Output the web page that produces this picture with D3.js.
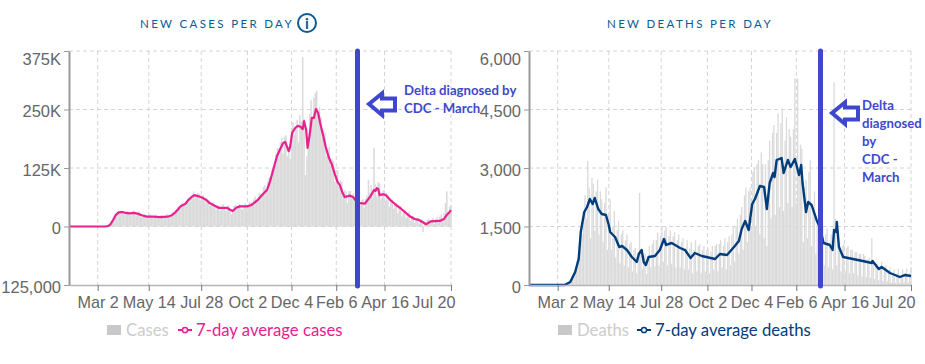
<!DOCTYPE html>
<html>
<head>
<meta charset="utf-8">
<script src="https://cdn.jsdelivr.net/npm/d3@7"></script>
<style>
    body { margin: 0; background: #fff; }
    svg { display: block; font-family: Lato, sans-serif; }
</style>
</head>
<body>
<div id="chart-area"></div>
<script>
// Days are counted from the first day on the axis
var startDate = new Date(2020, 0, 21);
var lastDay = 546;

var tickDates = [new Date(2020, 2, 2), new Date(2020, 4, 14), new Date(2020, 6, 28), new Date(2020, 9, 2),
    new Date(2020, 11, 4), new Date(2021, 1, 6), new Date(2021, 3, 16), new Date(2021, 6, 20)];
var tickLabels = ["Mar 2", "May 14", "Jul 28", "Oct 2", "Dec 4", "Feb 6", "Apr 16", "Jul 20"];

var caseTicks = [-125, 0, 125, 250, 375];
var caseTickLabels = ["125,000", "0", "125K", "250K", "375K"];
var deathTicks = [0, 1500, 3000, 4500, 6000];
var deathTickLabels = ["0", "1,500", "3,000", "4,500", "6,000"];

// Daily cases in thousands, read every second day from day 56
var caseBarStart = 56;
var caseBars = [
    1, 3, 6, 11, 16, 21, 26, 31, 32, 34,
    30, 27, 26, 32, 34, 28, 24, 30, 34, 30,
    22, 27, 32, 26, 20, 23, 26, 22, 18, 22,
    26, 20, 18, 22, 25, 19, 17, 21, 25, 20,
    18, 22, 27, 20, 19, 25, 30, 26, 30, 37,
    42, 38, 44, 50, 46, 44, 54, 60, 52, 58,
    68, 75, 66, 62, 72, 70, 56, 60, 68, 58,
    50, 58, 56, 44, 46, 52, 46, 36, 42, 44,
    34, 40, 48, 42, 32, 40, 46, 36, 26, 30,
    44, 46, 36, 40, 48, 38, 36, 46, 50, 40,
    44, 52, 52, 46, 58, 64, 56, 60, 72, 70,
    68, 84, 88, 80, 96, 104, 100, 122, 126, 130,
    156, 168, 150, 180, 190, 155, 192, 195, 150, 160,
    145, 205, 222, 195, 215, 228, 180, 238, 225, 362,
    230, 110, 150, 190, 240, 270, 235, 275, 285, 290,
    240, 255, 235, 190, 205, 200, 150, 165, 170, 130,
    145, 140, 95, 110, 120, 85, 100, 95, 65, 78,
    75, 50, 75, 76, 60, 70, 62, 46, 58, 60,
    44, 56, 58, 40, 60, 66, 100, 72, 88, 62,
    168, 90, 64, 95, 92, 60, 75, 78, 55, 72,
    66, 42, 56, 58, 38, 50, 50, 28, 42, 44,
    22, 36, 36, 18, 26, 32, 12, 22, 22, 8,
    18, 18, 6, 14, 16, -12, 10, 8, 14, 16,
    6, 14, 18, 6, 16, 20, 8, 20, 26, 10,
    28, 50, 75, 30, 42, 45
];

// 7-day average cases in thousands
var caseAvgDays = [0, 51, 56, 59, 63, 67, 71, 76, 81, 87, 93, 99, 104, 111, 120, 130, 141, 147, 151, 156,
    160, 166, 171, 176, 179, 184, 190, 196, 201, 209, 214, 226, 231, 234, 239, 244, 254, 261, 270, 279,
    283, 287, 291, 297, 301, 306, 309, 311, 314, 316, 319, 323, 327, 331, 334, 336, 339, 341, 344, 347,
    350, 353, 356, 359, 363, 367, 371, 376, 380, 384, 387, 391, 394, 399, 401, 406, 409, 416, 423, 427,
    431, 436, 438, 440, 442, 444, 449, 453, 459, 466, 473, 480, 487, 494, 500, 506, 510, 513, 517, 530,
    536, 540, 543, 546];
var caseAvg = [0, 0, 1, 4, 14, 25, 30, 31, 29, 28, 29, 27, 24, 21, 21, 20, 21, 24, 29, 37,
    44, 48, 57, 64, 67, 65, 62, 57, 50, 44, 40, 40, 35, 33, 40, 43, 43, 46, 57, 72,
    78, 95, 116, 149, 163, 178, 181, 173, 161, 170, 200, 210, 215, 213, 208, 225, 206, 168, 196, 232,
    232, 251, 243, 221, 196, 170, 149, 131, 112, 95, 89, 72, 63, 65, 66, 63, 57, 50, 49, 57,
    65, 78, 76, 82, 80, 67, 69, 67, 57, 48, 40, 31, 22, 16, 14, 9, 5, 7, 11, 12,
    16, 25, 29, 35];

// Daily deaths, read every second day from day 52
var deathBarStart = 52;
var deathBars = [
    10, 20, 40, 60, 120, 200, 300, 350, 600, 700,
    1000, 1500, 1300, 1900, 2300, 1700, 3180, 2500, 1200, 2750,
    2600, 1400, 2400, 2700, 1300, 2400, 2200, 1100, 2100, 2500,
    900, 1800, 2200, 900, 1500, 1900, 700, 1400, 1650, 560,
    1300, 1400, 500, 1150, 1300, 450, 1050, 1100, 350, 900,
    950, 300, 850, 2360, 900, 400, 750, 800, 280, 750,
    1000, 450, 1050, 1150, 480, 1150, 1350, 500, 1250, 1500,
    600, 1400, 1500, 500, 1250, 1400, 550, 1250, 1350, 450,
    1150, 1300, 450, 1100, 1200, 400, 950, 1150, 400, 950,
    1100, 300, 900, 1150, 350, 1000, 1050, 300, 900, 1000,
    350, 900, 950, 300, 850, 1000, 400, 1000, 1050, 350,
    1050, 1150, 450, 1000, 1200, 400, 1100, 1250, 500, 1300,
    1500, 600, 1500, 1700, 800, 1800, 2000, 900, 2300, 2500,
    1100, 2400, 2500, 1400, 2900, 3000, 1500, 3100, 3200, 1300,
    3400, 3100, 1200, 3100, 1000, 3200, 3700, 1700, 3900, 4100,
    1800, 3900, 4400, 2000, 4150, 4500, 1900, 3700, 4300, 2100,
    4000, 3800, 2000, 4000, 5300, 2100, 5300, 2800, 3600, 3500,
    1100, 2500, 2700, 1200, 2900, 3200, 1000, 2000, 2400, 800,
    1500, 1900, 600, 1200, 1500, 500, 1300, 1450, 450, 1100,
    1300, 400, 5200, 1700, 500, 1400, 1100, 350, 1000, 1050,
    350, 950, 1000, 300, 900, 900, 300, 850, 850, 250,
    800, 800, 220, 800, 750, 200, 650, 700, 180, 1200,
    650, 150, 500, 550, 120, 450, 600, 100, 400, 500,
    100, 350, 450, 60, 300, 400, 60, 300, 420, 60,
    230, 400, 70, 300, 420, 60, 300, 470
];

// 7-day average deaths
var deathAvgDays = [0, 51, 59, 66, 71, 74, 79, 83, 87, 91, 94, 99, 104, 110, 114, 116, 123, 129, 133, 140,
    147, 154, 157, 161, 164, 167, 171, 180, 187, 193, 196, 204, 216, 223, 231, 237, 247, 266, 273, 283,
    293, 300, 304, 309, 314, 319, 323, 330, 336, 340, 344, 349, 351, 354, 361, 364, 370, 374, 380, 386,
    389, 391, 396, 399, 404, 411, 416, 421, 430, 434, 436, 439, 440, 443, 449, 463, 477, 490, 491, 500,
    504, 516, 530, 537, 546];
var deathAvg = [0, 0, 77, 333, 667, 1359, 1872, 2000, 2205, 2077, 2231, 1949, 1820, 1795, 1538, 1359, 1231, 974, 1000, 897,
    718, 590, 795, 897, 590, 513, 718, 744, 897, 1179, 1026, 1077, 949, 897, 692, 820, 744, 667, 795, 769,
    974, 1128, 1436, 1641, 1410, 2077, 2205, 2538, 2513, 1949, 2615, 2872, 2769, 3205, 3256, 2872, 3205, 3026, 3231, 2820,
    3077, 2615, 1872, 2128, 2051, 1667, 1462, 1077, 1026, 897, 1410, 1359, 1615, 974, 718, 667, 615, 564, 615, 410,
    462, 308, 205, 256, 231];

var annotationColor = "#3f48cc";
var titleColor = "#0b5a95";
var axisText = "#666";

var svg = d3.select("#chart-area").append("svg")
    .attr("width", 925)
    .attr("height", 364);

function dayToDate(d) {
    return d3.timeDay.offset(startDate, d);
}

// One panel: grid, bars, average line, axes and legend
function drawPanel(p) {
    var x = d3.scaleTime()
        .domain([startDate, dayToDate(lastDay)])
        .range([p.left, p.left + 382]);
    var y = d3.scaleLinear()
        .domain(p.domain)
        .range([285, 51]);

    var g = svg.append("g");

    // Grid
    g.selectAll(".grid-h")
        .data(p.ticks.filter(d => d != p.domain[0]))
        .enter()
        .append("line")
        .attr("x1", p.left)
        .attr("x2", p.left + 382)
        .attr("y1", d => y(d))
        .attr("y2", d => y(d))
        .attr("stroke", "#d4d4d4")
        .attr("stroke-dasharray", "4,3");

    g.selectAll(".grid-v")
        .data(tickDates)
        .enter()
        .append("line")
        .attr("x1", d => x(d))
        .attr("x2", d => x(d))
        .attr("y1", 51)
        .attr("y2", 285)
        .attr("stroke", "#d4d4d4")
        .attr("stroke-dasharray", "4,3");

    // Daily bars
    g.selectAll(".bar")
        .data(p.bars)
        .enter()
        .append("rect")
        .attr("x", (d, i) => x(dayToDate(p.barStart + i * 2)) - p.barWidth / 2)
        .attr("y", d => Math.min(y(d), y(0)))
        .attr("width", p.barWidth)
        .attr("height", d => Math.abs(y(d) - y(0)))
        .attr("fill", "#dadada");

    // 7-day average
    var line = d3.line()
        .x((d, i) => x(dayToDate(p.avgDays[i])))
        .y(d => y(d));

    g.append("path")
        .datum(p.avg)
        .attr("d", line)
        .attr("fill", "none")
        .attr("stroke", p.color)
        .attr("stroke-width", p.lineWidth)
        .attr("stroke-linejoin", "round");

    // X axis
    var xAxis = g.append("g")
        .attr("transform", "translate(0,285)")
        .call(d3.axisBottom(x)
            .tickValues(tickDates)
            .tickFormat((d, i) => tickLabels[i])
            .tickSize(6)
            .tickSizeOuter(0));
    xAxis.select(".domain").attr("stroke", "#b5b5b5").attr("stroke-width", 1.5);
    xAxis.selectAll(".tick line").attr("stroke", "#777");
    xAxis.selectAll("text")
        .attr("y", 11)
        .attr("dy", "0.71em")
        .attr("fill", axisText)
        .style("font-size", "16.2px");
    // Last label stops at the plot edge
    xAxis.selectAll(".tick:last-of-type text")
        .attr("text-anchor", "end")
        .attr("dx", 4);

    // Y axis
    var yAxis = g.append("g")
        .attr("transform", "translate(" + p.left + ",0)")
        .call(d3.axisLeft(y)
            .tickValues(p.ticks)
            .tickFormat((d, i) => p.tickLabels[i])
            .tickSize(5)
            .tickSizeOuter(0));
    yAxis.select(".domain").attr("stroke", "#999").attr("stroke-width", 2);
    yAxis.selectAll(".tick line").attr("stroke", "#999");
    yAxis.selectAll("text")
        .attr("x", -8)
        .attr("dy", d => d == p.domain[1] ? 13.5 : 7)
        .attr("fill", axisText)
        .style("font-size", "16.5px");

    // Title
    svg.append("text")
        .attr("x", p.titleX)
        .attr("y", 27.5)
        .attr("fill", titleColor)
        .style("font-size", "11.5px")
        .style("letter-spacing", p.titleSpacing)
        .text(p.title);

    // Legend
    var legend = svg.append("g").attr("transform", "translate(" + p.legendX + ",0)");
    legend.append("rect")
        .attr("x", 0)
        .attr("y", 325)
        .attr("width", 14)
        .attr("height", 10)
        .attr("fill", "#c8c8c8");
    legend.append("text")
        .attr("x", 19)
        .attr("y", 336)
        .attr("fill", "#ccc")
        .style("font-size", "16.7px")
        .text(p.barName);
    legend.append("line")
        .attr("x1", p.markerX)
        .attr("x2", p.markerX + 14)
        .attr("y1", 330)
        .attr("y2", 330)
        .attr("stroke", p.color)
        .attr("stroke-width", 2);
    legend.append("circle")
        .attr("cx", p.markerX + 7)
        .attr("cy", 330)
        .attr("r", 2.6)
        .attr("fill", "#fff")
        .attr("stroke", p.color)
        .attr("stroke-width", 1.5);
    legend.append("text")
        .attr("x", p.markerX + 18)
        .attr("y", 336)
        .attr("fill", p.color)
        .style("font-size", "16.7px")
        .text(p.avgName);
}

drawPanel({
    left: 69, domain: [-125, 375], ticks: caseTicks, tickLabels: caseTickLabels,
    bars: caseBars, barStart: caseBarStart, barWidth: 1.5, avg: caseAvg, avgDays: caseAvgDays,
    color: "#e9208f", lineWidth: 2.2, title: "NEW CASES PER DAY", titleX: 140, titleSpacing: "2.35px",
    legendX: 107, markerX: 71, barName: "Cases", avgName: "7-day average cases"
});

drawPanel({
    left: 529, domain: [0, 6000], ticks: deathTicks, tickLabels: deathTickLabels,
    bars: deathBars, barStart: deathBarStart, barWidth: 1.3, avg: deathAvg, avgDays: deathAvgDays,
    color: "#003d7c", lineWidth: 2.4, title: "NEW DEATHS PER DAY", titleX: 607, titleSpacing: "2.35px",
    legendX: 558, markerX: 79, barName: "Deaths", avgName: "7-day average deaths"
});

// Info icon next to the first title
svg.append("circle")
    .attr("cx", 307)
    .attr("cy", 23)
    .attr("r", 9)
    .attr("fill", "none")
    .attr("stroke", titleColor)
    .attr("stroke-width", 2);
svg.append("text")
    .attr("x", 307)
    .attr("y", 29)
    .attr("text-anchor", "middle")
    .attr("fill", titleColor)
    .style("font-size", "15px")
    .style("font-weight", "bold")
    .text("i");

// Hand-drawn style annotations on top of each panel
function drawAnnotation(lineX, arrowDx, arrowDy, textX, lines, firstY) {
    svg.append("line")
        .attr("x1", lineX)
        .attr("x2", lineX)
        .attr("y1", 51)
        .attr("y2", 286)
        .attr("stroke", annotationColor)
        .attr("stroke-width", 5)
        .attr("stroke-linecap", "round");

    svg.append("path")
        .attr("d", "M369,104 L382,93.5 L382,98.5 L395,98.5 L395,110.5 L382,110.5 L382,115 Z")
        .attr("transform", "translate(" + arrowDx + "," + arrowDy + ")")
        .attr("fill", "#fff")
        .attr("stroke", annotationColor)
        .attr("stroke-width", 4);

    svg.selectAll(null)
        .data(lines)
        .enter()
        .append("text")
        .attr("x", textX)
        .attr("y", (d, i) => firstY + i * 18)
        .attr("fill", annotationColor)
        .style("font-size", "13.2px")
        .style("font-weight", "bold")
        .text(d => d);
}

drawAnnotation(357.5, 0, 0, 404, ["Delta diagnosed by", "CDC - March"], 95);
drawAnnotation(820.5, 463, 9, 862, ["Delta", "diagnosed", "by", "CDC -", "March"], 110);
</script>
</body>
</html>
